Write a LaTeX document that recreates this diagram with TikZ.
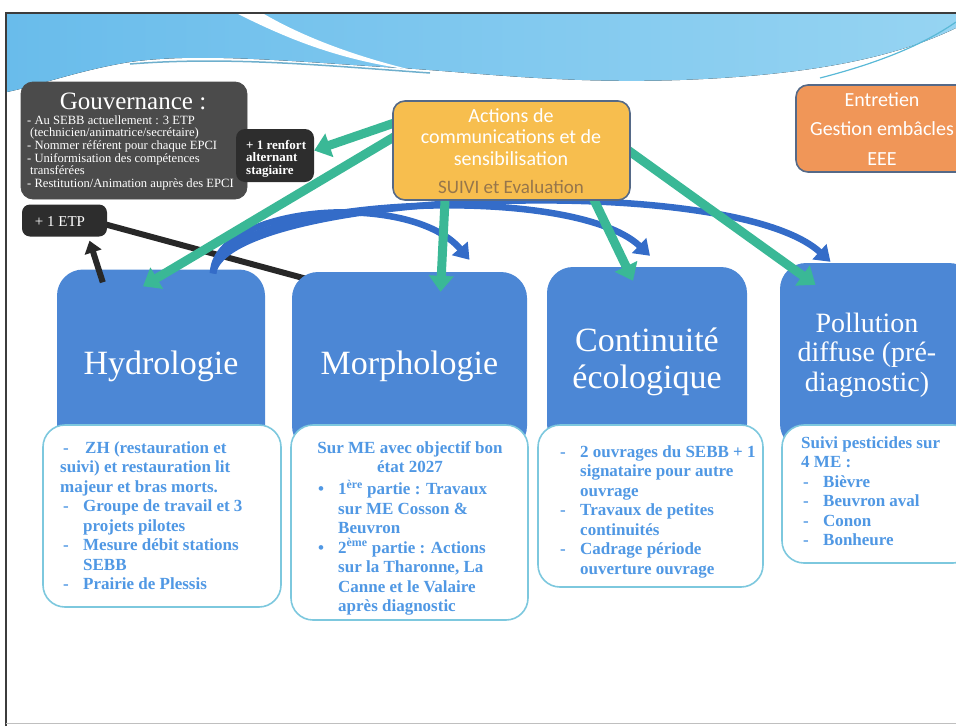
\documentclass[tikz,border=0pt]{standalone}
\usepackage{fontspec}
\setmainfont{Liberation Serif}
\newfontfamily\calib{Carlito}
\usetikzlibrary{arrows.meta,calc}
\pgfdeclarelayer{bgA}\pgfdeclarelayer{bgB}\pgfdeclarelayer{arr}
\pgfsetlayers{bgA,bgB,arr,main}
\definecolor{boxblue}{RGB}{76,135,213}
\definecolor{txtborder}{RGB}{125,200,222}
\definecolor{txtblue}{RGB}{80,152,228}
\definecolor{garrow}{RGB}{58,184,150}
\definecolor{barrow}{RGB}{52,108,200}
\definecolor{govgray}{RGB}{75,75,75}
\definecolor{renfgray}{RGB}{45,45,45}
\definecolor{yelfill}{RGB}{247,190,78}
\definecolor{yelborder}{RGB}{85,105,135}
\definecolor{suivicol}{RGB}{150,118,75}
\definecolor{orafill}{RGB}{240,150,88}
\definecolor{blk}{RGB}{40,40,40}
\definecolor{bannerA}{RGB}{105,188,235}
\definecolor{bannerB}{RGB}{150,212,242}
\definecolor{framecol}{RGB}{60,60,60}
\begin{document}
\begin{tikzpicture}[x=1pt,y=-1pt,
  bluebox/.style={fill=boxblue, rounded corners=26pt, inner sep=0pt},
  txtbox/.style={fill=white, draw=txtborder, line width=1.6pt, rounded corners=22pt, inner sep=0pt},
  body/.style={text=txtblue, font=\bfseries\fontsize{17}{19.5}\selectfont, align=left, inner sep=0pt, anchor=north west},
  title/.style={text=white, font=\fontsize{34}{37}\selectfont, align=center, inner sep=0pt},
  greenarrow/.style={draw=garrow, line width=9pt, -{Triangle[length=16pt,width=24pt]}},
  bluearrow/.style={draw=barrow, line width=6.5pt, -{Triangle[length=15pt,width=20pt]}},
  blackline/.style={draw=blk, line width=6pt},
  darkbox/.style={rounded corners=12pt, inner sep=0pt},
]
\useasboundingbox (0,0) rectangle (956,726);

% ---------- background banner ----------
\begin{pgfonlayer}{bgA}
\fill[left color=bannerA, right color=bannerB]
  (7,14) -- (956,14) -- (956,28)
  .. controls (900,55) and (820,75) .. (680,80)
  .. controls (560,84) and (470,72) .. (400,68)
  .. controls (300,62) and (200,52) .. (130,62)
  .. controls (80,70) and (40,85) .. (7,92) -- cycle;
\fill[white] (238,14) -- (264,14) .. controls (300,35) and (350,55) .. (412,70)
  .. controls (340,60) and (290,40) .. (238,14) -- cycle;
\draw[line width=1.5pt, color={rgb,255:red,110;green,175;blue,205}]
  (130,64) .. controls (230,56) and (330,66) .. (430,73);
\draw[line width=1.2pt, color={rgb,255:red,90;green,185;blue,215}]
  (820,78) .. controls (890,60) and (930,40) .. (956,22);
\draw[line width=2pt, framecol] (6,726) -- (6,13) -- (956,13);
\draw[line width=0.8pt, gray!50] (6,723) -- (956,723);
\end{pgfonlayer}

% ---------- blue boxes ----------
\begin{pgfonlayer}{bgB}
\node[bluebox, minimum width=208pt, minimum height=185pt] (hydro) at (161,362) {};
\node[bluebox, minimum width=235pt, minimum height=180pt] (morpho) at (409.5,362) {};
\node[bluebox, minimum width=200pt, minimum height=183pt] (conti) at (647,358.5) {};
\node[bluebox, minimum width=195pt, minimum height=187pt] (pollu) at (877.5,356.5) {};
\node[title] (hydroT) at (161,366) {Hydrologie};
\node[title] (morphoT) at (409.5,366) {Morphologie};
\node[title] (contiT) at (647,362) {Continuité\\écologique};
\node[title, font=\fontsize{28}{29.5}\selectfont] (polluT) at (867,355) {Pollution\\diffuse (pré-\\diagnostic)};

\node[txtbox, minimum width=238pt, minimum height=182pt] (hytext) at (162,516) {};
\node[txtbox, minimum width=237pt, minimum height=195pt] (motext) at (409.5,522.5) {};
\node[txtbox, minimum width=225pt, minimum height=162pt] (cotext) at (650.5,506) {};
\node[txtbox, minimum width=193pt, minimum height=138pt] (potext) at (878.5,494) {};

\node[body] (hyBody) at (60,441) {\rule{0pt}{12pt}\hspace*{3pt}\makebox[22pt][l]{-}ZH (restauration et\\
suivi) et restauration lit\\
majeur et bras morts.\\
\hspace*{3pt}\makebox[20pt][l]{-}Groupe de travail et 3\\
\hspace*{23pt}projets pilotes\\
\hspace*{3pt}\makebox[20pt][l]{-}Mesure débit stations\\
\hspace*{23pt}SEBB\\
\hspace*{3pt}\makebox[20pt][l]{-}Prairie de Plessis};

\node[body, anchor=north, align=center] (moHead) at (410,441) {\rule{0pt}{12pt}Sur ME avec objectif bon\\état 2027};
\node[body] (moBody) at (318,480) {\rule{0pt}{12pt}\makebox[20pt][l]{\textbullet}1\textsuperscript{ère} partie : Travaux\\
\hspace*{20pt}sur ME Cosson \&\\
\hspace*{20pt}Beuvron\\
\makebox[20pt][l]{\textbullet}2\textsuperscript{ème} partie : Actions\\
\hspace*{20pt}sur la Tharonne, La\\
\hspace*{20pt}Canne et le Valaire\\
\hspace*{20pt}après diagnostic};

\node[body] (coBody) at (560,445) {\rule{0pt}{12pt}\makebox[20pt][l]{-}2 ouvrages du SEBB + 1\\
\hspace*{20pt}signataire pour autre\\
\hspace*{20pt}ouvrage\\
\makebox[20pt][l]{-}Travaux de petites\\
\hspace*{20pt}continuités\\
\makebox[20pt][l]{-}Cadrage période\\
\hspace*{20pt}ouverture ouvrage};

\node[body] (poBody) at (801,436) {\rule{0pt}{12pt}Suivi pesticides sur\\
4 ME :\\
\hspace*{2pt}\makebox[20pt][l]{-}Bièvre\\
\hspace*{2pt}\makebox[20pt][l]{-}Beuvron aval\\
\hspace*{2pt}\makebox[20pt][l]{-}Conon\\
\hspace*{2pt}\makebox[20pt][l]{-}Bonheure};
\end{pgfonlayer}

% ---------- top boxes ----------
\node[darkbox, fill=govgray, draw=black!70, line width=0.8pt, minimum width=226pt, minimum height=117pt] (gov) at (134,140.5) {};
\node[text=white, font=\fontsize{25}{27}\selectfont, inner sep=0pt] (govT) at (133,101) {Gouvernance :};
\node[text=white, font=\fontsize{12.6}{12.6}\selectfont, align=left, inner sep=0pt, anchor=north west] (govBody) at (27,115) {\rule{0pt}{9pt}- Au SEBB actuellement : 3 ETP\\
\hspace*{3pt}(technicien/animatrice/secrétaire)\\
- Nommer référent pour chaque EPCI\\
- Uniformisation des compétences\\
\hspace*{3pt}transférées\\
- Restitution/Animation auprès des EPCI};

\node[darkbox, fill=renfgray, rounded corners=9pt, minimum width=78pt, minimum height=53pt] (renf) at (275,155.5) {};
\node[text=white, font=\bfseries\fontsize{13}{12.5}\selectfont, align=left, inner sep=0pt, anchor=north west] (renfT) at (246,140) {\rule{0pt}{9pt}+ 1 renfort\\alternant\\stagiaire};

\node[darkbox, fill=renfgray, rounded corners=8pt, minimum width=85pt, minimum height=32pt] (etp) at (64.5,220.5) {};
\node[text=white, font=\fontsize{15}{16}\selectfont, inner sep=0pt] (etpT) at (60,222) {+ 1 ETP};

\node[fill=yelfill, draw=yelborder, line width=1.6pt, rounded corners=12pt, minimum width=237pt, minimum height=99pt, inner sep=0pt] (yel) at (511.5,150.5) {};
\node[text=white, font=\calib\fontsize{20}{21.5}\selectfont, align=center, inner sep=0pt] (yelT) at (511,137) {Actions de\\communications et de\\sensibilisation};
\node[text=suivicol, font=\calib\fontsize{19}{20}\selectfont, inner sep=0pt] (yelS) at (511,187) {SUIVI et Evaluation};

\node[fill=orafill, draw=yelborder, line width=1.6pt, rounded corners=12pt, minimum width=179pt, minimum height=87pt, inner sep=0pt] (ora) at (885.5,128.5) {};
\node[text=white, font=\calib\fontsize{20}{29.5}\selectfont, align=center, inner sep=0pt] (oraT) at (882,129) {Entretien\\Gestion embâcles\\EEE};

% ---------- connectors ----------
\begin{pgfonlayer}{bgA}
\draw[blackline] ($(etp.east)+(-5,3)$) -- ($(morpho.north west)+(18,8)$);
\end{pgfonlayer}

\begin{pgfonlayer}{arr}
\draw[bluearrow] ($(hydro.north)+(52,4)$) .. controls (215,205) and (410,190) .. ($(morpho.north)+(60,-12)$);
\draw[bluearrow] ($(hydro.north)+(52,4)$) .. controls (220,198) and (570,180) .. ($(conti.north)+(3,-11)$);
\draw[bluearrow] ($(hydro.north)+(52,4)$) .. controls (225,192) and (730,170) .. ($(pollu.north)+(-47,-1)$);

\draw[greenarrow] ($(yel.center)+(-110,-30)$) -- ($(renf.east)+(0,-5)$);
\draw[greenarrow] ($(yel.center)+(-110,-18)$) -- ($(hydro.north)+(-18,17)$);
\draw[greenarrow] ($(yel.center)+(-66,40)$) -- ($(morpho.north)+(31,20)$);
\draw[greenarrow] ($(yel.center)+(78,40)$) -- ($(conti.north)+(-14,14)$);
\draw[greenarrow] ($(yel.center)+(110,-5)$) -- ($(pollu.north)+(-62,22)$);

\draw[blackline, -{Triangle[length=12pt,width=17pt]}] ($(hydro.north west)+(46,13)$) -- ($(etp.south)+(25,4)$);
\end{pgfonlayer}
\end{tikzpicture}
\end{document}
